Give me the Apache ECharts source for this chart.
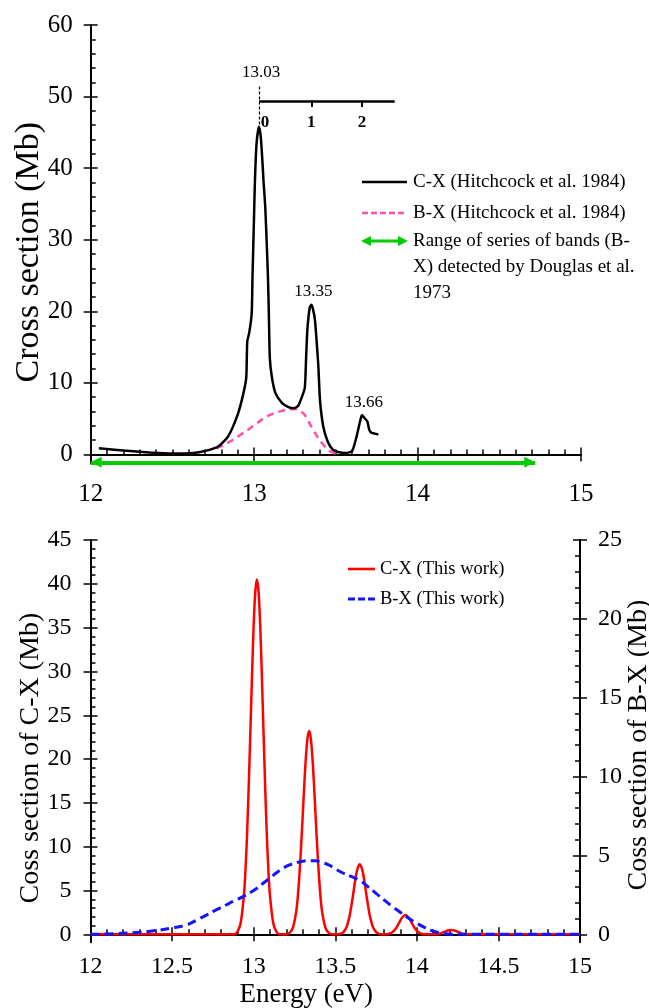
<!DOCTYPE html>
<html>
<head>
<meta charset="utf-8">
<script src="https://cdn.jsdelivr.net/npm/echarts@6/dist/echarts.min.js"></script>
<style>
  html, body { margin: 0; padding: 0; background: #fff; }
  #chart { width: 649px; height: 1008px; }
</style>
</head>
<body>
<div id="chart"></div>
<script>
// ---------- data ----------
// Hitchcock et al. 1984, C-X absorption cross section (energy eV, Mb)
const hitchcockCX = [
  [12.05, 0.85], [12.20, 0.55], [12.36, 0.28], [12.50, 0.12], [12.63, 0.20],
  [12.72, 0.6], [12.78, 1.1], [12.84, 2.5], [12.90, 5.6], [12.935, 8.6],
  [12.952, 10.8], [12.958, 15.8], [12.97, 17.0], [12.985, 19.7], [12.99, 24.8],
  [12.998, 32.0], [13.005, 38.3], [13.015, 43.5], [13.03, 45.8], [13.04, 44.5],
  [13.048, 42.0], [13.058, 38.0], [13.068, 34.6], [13.078, 29.0], [13.085, 24.4],
  [13.09, 19.7], [13.096, 13.5], [13.108, 10.9], [13.13, 8.6], [13.17, 7.2],
  [13.21, 6.6], [13.245, 6.45], [13.27, 6.8], [13.29, 7.9], [13.31, 9.3],
  [13.318, 13.5], [13.326, 17.5], [13.34, 20.5], [13.35, 20.9], [13.36, 20.3],
  [13.372, 18.8], [13.385, 15.0], [13.393, 12.3], [13.403, 7.6], [13.423, 3.9],
  [13.45, 1.8], [13.48, 0.7], [13.52, 0.3], [13.56, 0.2], [13.60, 0.5],
  [13.628, 2.6], [13.648, 4.6], [13.66, 5.5], [13.675, 5.1], [13.693, 4.6],
  [13.705, 3.4], [13.72, 3.0], [13.76, 2.8]
];
// Hitchcock et al. 1984, B-X
const hitchcockBX = [
  [12.77, 0.85], [12.83, 1.5], [12.88, 2.2], [12.94, 3.1], [12.99, 3.9],
  [13.05, 4.9], [13.10, 5.55], [13.15, 5.95], [13.20, 6.25], [13.245, 6.35],
  [13.28, 6.1], [13.31, 5.5], [13.34, 4.3], [13.37, 3.1], [13.40, 2.0],
  [13.43, 1.2], [13.46, 0.5], [13.50, 0.12]
];
// Douglas et al. 1973, energy range of the B-X band series
const douglasRange = [12.0, 14.72];
// C-X vibrational progression
const peakEnergies = [13.03, 13.35, 13.66];
const vibLevels = ['0', '1', '2'];
const progressionEnd = 13.86;
const progressionLevel = 49.4;

// This work, C-X (left axis, Mb)
const thisWorkCX = [
  [12.00, 0], [12.50, 0], [12.88, 0], [12.90, 0.28], [12.92, 1.27], [12.94, 4.4],
  [12.95, 7.4], [12.96, 11.6], [12.97, 17.1], [12.98, 23.3], [12.99, 29.6],
  [13.00, 35.3], [13.01, 39.1], [13.02, 40.5], [13.03, 39.1], [13.04, 35.3],
  [13.05, 29.6], [13.06, 23.3], [13.07, 17.1], [13.08, 11.6], [13.09, 7.4],
  [13.10, 4.4], [13.12, 1.27], [13.14, 0.28], [13.16, 0],
  [13.20, 0], [13.22, 0.16], [13.24, 0.73], [13.26, 2.5], [13.27, 4.2],
  [13.28, 6.7], [13.29, 9.8], [13.30, 13.3], [13.31, 17.0], [13.32, 20.2],
  [13.33, 22.4], [13.34, 23.2], [13.35, 22.4], [13.36, 20.2], [13.37, 17.0],
  [13.38, 13.3], [13.39, 9.8], [13.40, 6.7], [13.41, 4.2], [13.42, 2.5],
  [13.44, 0.73], [13.46, 0.16], [13.48, 0],
  [13.51, 0], [13.53, 0.05], [13.55, 0.25], [13.57, 0.87], [13.58, 1.5],
  [13.59, 2.3], [13.60, 3.4], [13.61, 4.6], [13.62, 5.9], [13.63, 7.0],
  [13.64, 7.7], [13.65, 8.0], [13.66, 7.7], [13.67, 7.0], [13.68, 5.9],
  [13.69, 4.6], [13.70, 3.4], [13.71, 2.3], [13.72, 1.5], [13.73, 0.87],
  [13.75, 0.25], [13.77, 0.05], [13.79, 0],
  [13.81, 0], [13.83, 0.07], [13.85, 0.24], [13.87, 0.63], [13.89, 1.27],
  [13.91, 1.92], [13.93, 2.2], [13.95, 1.92], [13.97, 1.27], [13.99, 0.63],
  [14.01, 0.24], [14.03, 0.07], [14.05, 0],
  [14.11, 0], [14.13, 0.05], [14.15, 0.14], [14.17, 0.29], [14.19, 0.44],
  [14.21, 0.5], [14.23, 0.44], [14.25, 0.29], [14.27, 0.14], [14.29, 0.05],
  [14.31, 0], [15.00, 0]
];
// This work, B-X (right axis, Mb)
const thisWorkBX = [
  [12.00, 0], [12.15, 0.04], [12.30, 0.13], [12.40, 0.24], [12.49, 0.38],
  [12.59, 0.6], [12.65, 0.9], [12.71, 1.22], [12.77, 1.55], [12.83, 1.86],
  [12.88, 2.12], [12.935, 2.39], [12.98, 2.65], [13.02, 2.92], [13.06, 3.25],
  [13.10, 3.57], [13.14, 3.9], [13.18, 4.19], [13.22, 4.4], [13.26, 4.53],
  [13.30, 4.63], [13.34, 4.67], [13.38, 4.66], [13.42, 4.55], [13.46, 4.4],
  [13.50, 4.15], [13.55, 3.87], [13.60, 3.65], [13.65, 3.42], [13.70, 3.02],
  [13.75, 2.6], [13.80, 2.17], [13.85, 1.76], [13.90, 1.38], [13.95, 1.02],
  [14.00, 0.7], [14.05, 0.42], [14.10, 0.2], [14.16, 0.06], [14.22, 0.01],
  [14.30, 0], [15.00, 0]
];

// tick values
const topXTicks = [12, 13, 14, 15];
const topYTicks = [0, 10, 20, 30, 40, 50, 60];
const bottomXTicks = [12, 12.5, 13, 13.5, 14, 14.5, 15];
const bottomLeftTicks = [0, 5, 10, 15, 20, 25, 30, 35, 40, 45];
const bottomRightTicks = [0, 5, 10, 15, 20, 25];

const names = {
  topCX: 'C-X (Hitchcock et al. 1984)',
  topBX: 'B-X (Hitchcock et al. 1984)',
  range: ['Range of series of bands (B-', 'X) detected by Douglas et al.', '1973'],
  botCX: 'C-X (This work)',
  botBX: 'B-X (This work)'
};

// ---------- helpers ----------
const SERIF = "'Liberation Serif', 'Times New Roman', serif";
const RED = '#ff0000', BLUE = '#1414ff', PINK = '#ff4fa8', GREEN = '#00cc00';

function steps(from, to, step) {
  const out = [];
  const n = Math.round((to - from) / step);
  for (let i = 0; i <= n; i++) out.push(+(from + i * step).toFixed(4));
  return out;
}

// Each axis is drawn as three stacked axes: main (line, labels, outer ticks),
// inner major ticks, and inner minor ticks.
function axisSet(o) {
  const base = {
    type: 'value', gridIndex: o.grid, min: o.min, max: o.max, position: o.position,
    splitLine: { show: false }, axisPointer: { show: false }
  };
  const isX = o.position === 'bottom';
  const lineOpt = (show) => ({
    show: show, onZero: isX, onZeroAxisIndex: isX ? o.zeroIdx : undefined,
    lineStyle: { color: '#000', width: 2 }
  });
  const tick = (inside, len, vals) => ({
    show: true, inside: inside, length: len, customValues: vals,
    lineStyle: { color: '#000', width: 1.5 }
  });
  const main = Object.assign({}, base, {
    axisLine: lineOpt(true),
    axisTick: tick(false, 7, o.majors),
    axisLabel: {
      show: true, customValues: o.majors, margin: o.labelMargin,
      color: '#000', fontFamily: SERIF, fontSize: o.labelSize
    },
    name: o.name || '', nameLocation: 'middle', nameGap: o.nameGap || 0,
    nameMoveOverlap: false,
    nameTextStyle: Object.assign({ color: '#000', fontFamily: SERIF, fontSize: o.nameSize || 20 }, o.nameStyle || {})
  });
  const inner = Object.assign({}, base, {
    axisLine: lineOpt(false), axisTick: tick(true, 7, o.majors), axisLabel: { show: false }
  });
  const minor = Object.assign({}, base, {
    axisLine: lineOpt(false), axisTick: tick(true, 5, o.minors), axisLabel: { show: false }
  });
  return [main, inner, minor];
}

// ---------- axes ----------
const xAxes = [].concat(
  axisSet({ grid: 0, position: 'bottom', min: 12, max: 15, zeroIdx: 0,
            majors: topXTicks, minors: steps(12, 15, 0.1), labelSize: 25, labelMargin: 19 }),
  axisSet({ grid: 1, position: 'bottom', min: 12, max: 15, zeroIdx: 3,
            majors: bottomXTicks, minors: steps(12, 15, 0.1), labelSize: 24, labelMargin: 13,
            name: 'Energy (eV)', nameGap: 39, nameSize: 27,
            nameStyle: { padding: [0, 58, 0, 0] } })
);
const yAxes = [].concat(
  axisSet({ grid: 0, position: 'left', min: -1.25, max: 60,
            majors: topYTicks, minors: steps(0, 60, 2), labelSize: 25, labelMargin: 18,
            name: 'Cross section (Mb)', nameGap: 45, nameSize: 34,
            nameStyle: { padding: [0, 16, 0, 0] } }),
  axisSet({ grid: 1, position: 'left', min: -0.9, max: 45,
            majors: bottomLeftTicks, minors: steps(0, 45, 1), labelSize: 24, labelMargin: 19,
            name: 'Coss section of C-X (Mb)', nameGap: 46, nameSize: 28,
            nameStyle: { padding: [0, 34, 0, 0] } }),
  axisSet({ grid: 1, position: 'right', min: -0.5, max: 25,
            majors: bottomRightTicks, minors: steps(0, 25, 1), labelSize: 24, labelMargin: 18,
            name: 'Coss section of B-X (Mb)', nameGap: 45, nameSize: 28,
            nameStyle: { padding: [0, 8, 0, 0] } })
);

// ---------- annotations on the Hitchcock C-X curve ----------
const peakTop = Math.max.apply(null, hitchcockCX.map(p => p[1]));
const e0 = peakEnergies[0];
const annotationLines = [
  [{ coord: [e0, 51.4], lineStyle: { color: '#000', width: 1.2, type: [3, 2] } }, { coord: [e0, peakTop] }],
  [{ coord: [e0, progressionLevel], lineStyle: { color: '#000', width: 2.5, type: 'solid' } },
   { coord: [progressionEnd, progressionLevel] }]
].concat(peakEnergies.slice(1).map(e => [
  { coord: [e, progressionLevel], lineStyle: { color: '#000', width: 2, type: 'solid' } },
  { coord: [e, progressionLevel - 0.85] }
]));

const peakLabelLevels = [53.3, 22.7, 7.2];
const annotationLabels = peakEnergies.map((e, i) => ({
  name: e.toFixed(2), coord: [e, peakLabelLevels[i]],
  label: { offset: [2, 0] }
})).concat(peakEnergies.map((e, i) => ({
  name: vibLevels[i], coord: [e, 46.4],
  label: { offset: [i === 0 ? 6 : 0, 0], fontWeight: 'bold', fontSize: 17 }
})));

// ---------- series ----------
const series = [
  {
    name: names.topBX, type: 'line', xAxisIndex: 0, yAxisIndex: 0,
    data: hitchcockBX, symbol: 'none', smooth: 0.3, z: 2,
    itemStyle: { color: PINK },
    lineStyle: { color: PINK, width: 2.5, type: [7, 5] }
  },
  {
    name: names.topCX, type: 'line', xAxisIndex: 0, yAxisIndex: 0,
    data: hitchcockCX, symbol: 'none', smooth: 0.2, z: 3,
    itemStyle: { color: '#000' },
    lineStyle: { color: '#000', width: 2.5 },
    markLine: {
      silent: true, symbol: 'none', label: { show: false },
      emphasis: { disabled: true }, data: annotationLines
    },
    markPoint: {
      silent: true, symbol: 'rect', symbolSize: 1,
      itemStyle: { color: 'rgba(0,0,0,0)' },
      label: {
        show: true, position: 'inside', color: '#000', fontFamily: SERIF, fontSize: 17,
        formatter: p => p.name
      },
      data: annotationLabels
    }
  },
  {
    name: 'Douglas et al. 1973', type: 'line', xAxisIndex: 0, yAxisIndex: 0,
    data: [], symbol: 'none', itemStyle: { color: GREEN },
    markLine: {
      silent: true, label: { show: false }, emphasis: { disabled: true },
      data: [[
        { coord: [douglasRange[0], -1.1], symbol: 'triangle', symbolSize: 11, symbolOffset: [0, 5.5],
          lineStyle: { color: GREEN, width: 4, type: 'solid' } },
        { coord: [douglasRange[1], -1.1], symbol: 'triangle', symbolSize: 11, symbolOffset: [0, 5.5] }
      ]]
    }
  },
  {
    name: names.botCX, type: 'line', xAxisIndex: 3, yAxisIndex: 3,
    data: thisWorkCX, symbol: 'none', smooth: 0.3, z: 2,
    itemStyle: { color: RED },
    lineStyle: { color: RED, width: 2.5 }
  },
  {
    name: names.botBX, type: 'line', xAxisIndex: 3, yAxisIndex: 6,
    data: thisWorkBX, symbol: 'none', smooth: 0.4, z: 3,
    itemStyle: { color: BLUE },
    lineStyle: { color: BLUE, width: 3, type: [9, 5] }
  }
];

// ---------- legend for the upper panel ----------
const LX0 = 362, LX1 = 407, TX = 413;
const legendRows = [182, 213, 241];
const legendText = (t, y) => ({
  type: 'text', x: TX, y: y,
  style: { text: t, fill: '#000', font: '19px ' + SERIF, textVerticalAlign: 'middle' }
});
const graphics = [
  { type: 'line', shape: { x1: LX0, y1: legendRows[0], x2: LX1, y2: legendRows[0] },
    style: { stroke: '#000', lineWidth: 2.5 } },
  { type: 'line', shape: { x1: LX0, y1: legendRows[1], x2: LX1, y2: legendRows[1] },
    style: { stroke: PINK, lineWidth: 2.5, lineDash: [6, 3] } },
  { type: 'line', shape: { x1: LX0 + 6, y1: legendRows[2], x2: LX1 - 5, y2: legendRows[2] },
    style: { stroke: GREEN, lineWidth: 3 } },
  { type: 'polygon', shape: { points: [[LX0 - 1, legendRows[2]], [LX0 + 9, legendRows[2] - 5], [LX0 + 9, legendRows[2] + 5]] },
    style: { fill: GREEN } },
  { type: 'polygon', shape: { points: [[LX1 + 1, legendRows[2]], [LX1 - 9, legendRows[2] - 5], [LX1 - 9, legendRows[2] + 5]] },
    style: { fill: GREEN } },
  legendText(names.topCX, legendRows[0]),
  legendText(names.topBX, legendRows[1]),
  legendText(names.range[0], legendRows[2]),
  legendText(names.range[1], legendRows[2] + 26),
  legendText(names.range[2], legendRows[2] + 52)
];

const option = {
  animation: false,
  backgroundColor: '#fff',
  grid: [
    { left: 90.7, right: 68, top: 25, bottom: 544.6, containLabel: false, outerBoundsMode: 'none' },
    { left: 90.5, right: 69, top: 540, bottom: 65.8, containLabel: false, outerBoundsMode: 'none' }
  ],
  xAxis: xAxes,
  yAxis: yAxes,
  legend: {
    show: true, orient: 'vertical', left: 348, top: 559, padding: 0,
    itemWidth: 27, itemHeight: 3, itemGap: 10, selectedMode: false,
    textStyle: { color: '#000', fontFamily: SERIF, fontSize: 18.5, lineHeight: 20 },
    data: [
      { name: names.botCX, icon: 'path://M0,0h26v2.5h-26z' },
      { name: names.botBX, icon: 'path://M0,0h7v3h-7z M10,0h7v3h-7z M20,0h7v3h-7z' }
    ]
  },
  graphic: graphics,
  series: series
};

const chart = echarts.init(document.getElementById('chart'), null, { renderer: 'canvas' });
chart.setOption(option);
</script>
</body>
</html>
